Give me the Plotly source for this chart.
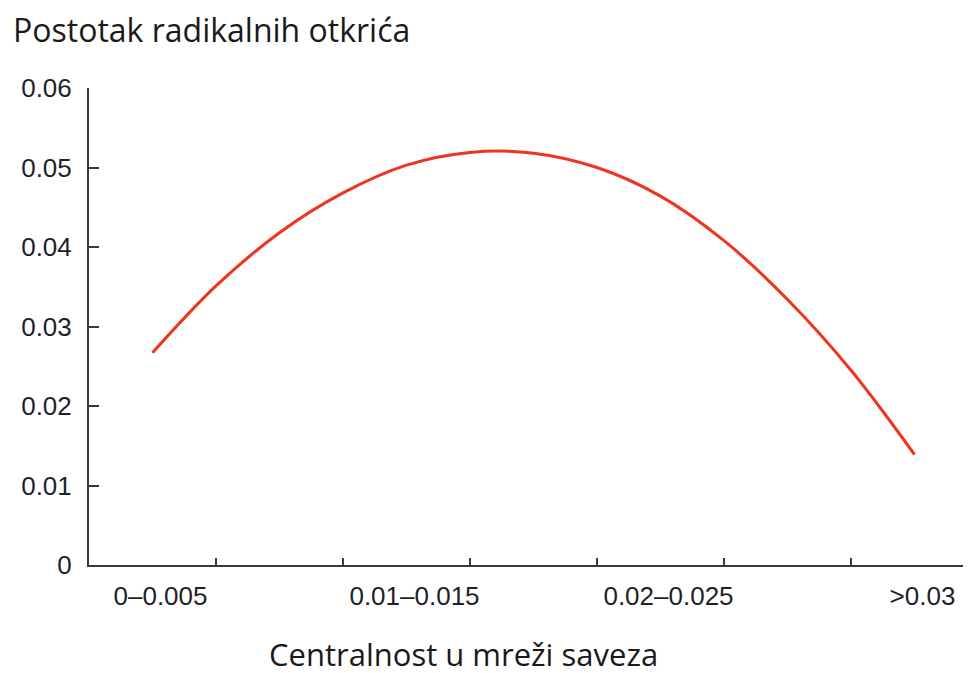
import plotly.graph_objects as go

# Bins of alliance-network centrality (categorical positions 0..6)
bins = ["0–0.005", "0.005–0.01", "0.01–0.015", "0.015–0.02", "0.02–0.025", "0.025–0.03", ">0.03"]
tick_positions = [0, 2, 4, 6]
tick_labels = ["0–0.005", "0.01–0.015", "0.02–0.025", ">0.03"]
bin_edges = [0.5, 1.5, 2.5, 3.5, 4.5, 5.5]

# Curve (x in bin units, y = share of radical discoveries)
curve_x = [0, 0.5, 1, 1.5, 2, 2.5, 3, 3.5, 4, 4.5, 5, 5.5, 6]
curve_y = [0.0267, 0.0351, 0.0418, 0.0468, 0.0503, 0.0519, 0.0518, 0.0500, 0.0464, 0.0408, 0.0334, 0.0245, 0.0139]

y_ticks = [0, 0.01, 0.02, 0.03, 0.04, 0.05, 0.06]
y_ticktext = ["0", "0.01", "0.02", "0.03", "0.04", "0.05", "0.06"]

OFF = 8  # page body margin offset
W, H = 971 - OFF, 673 - OFF
left, right_px, top, bottom_px = 89 - OFF, 971 - OFF, 88 - OFF, 565.5 - OFF

fig = go.Figure()
fig.add_trace(go.Scatter(
    x=curve_x, y=curve_y, mode="lines",
    line=dict(color="#ef3320", width=3, shape="spline", smoothing=1.0),
    hoverinfo="skip", showlegend=False,
))

axis_color = "#3a3a3a"
tick_font = dict(family="Liberation Sans, Arial, sans-serif", size=26, color="#1f1f2a")

fig.update_layout(
    width=W, height=H,
    margin=dict(l=left, r=W - right_px, t=top, b=H - bottom_px, pad=0),
    paper_bgcolor="white", plot_bgcolor="white",
    showlegend=False,
    xaxis=dict(
        range=[-0.5, -0.5 + (right_px - left) / 127.0],
        showline=True, linecolor=axis_color, linewidth=2,
        showgrid=False, zeroline=False,
        tickmode="array", tickvals=tick_positions, ticktext=tick_labels,
        ticks="", tickfont=tick_font,
        ticklabelshift=8, ticklabelstandoff=7,
        minor=dict(tickmode="array", tickvals=bin_edges, ticks="inside",
                   ticklen=7, tickwidth=2, tickcolor=axis_color, showgrid=False),
        fixedrange=True,
    ),
    yaxis=dict(
        range=[0, 0.06],
        showline=True, linecolor=axis_color, linewidth=2,
        showgrid=False, zeroline=False,
        tickmode="array", tickvals=y_ticks, ticktext=y_ticktext,
        ticks="inside", ticklen=10, tickwidth=2, tickcolor=axis_color,
        tickfont=tick_font, ticklabelstandoff=10,
        fixedrange=True,
    ),
)

title_font = dict(family="Open Sans, sans-serif", size=32, color="#1a1a1a")
ph = bottom_px - top
pw = right_px - left
fig.add_annotation(
    text="Postotak radikalnih otkrića", xref="paper", yref="paper",
    x=(3 - left) / pw, y=(bottom_px - 21) / ph,
    xanchor="left", yanchor="middle", showarrow=False, font=title_font,
)
fig.add_annotation(
    text="Centralnost u mreži saveza", xref="paper", yref="paper",
    x=(455.5 - left) / pw, y=(bottom_px - 647) / ph,
    xanchor="center", yanchor="middle", showarrow=False,
    font=dict(family="Open Sans, sans-serif", size=31, color="#1a1a1a"),
)

fig.write_html("out.html")
